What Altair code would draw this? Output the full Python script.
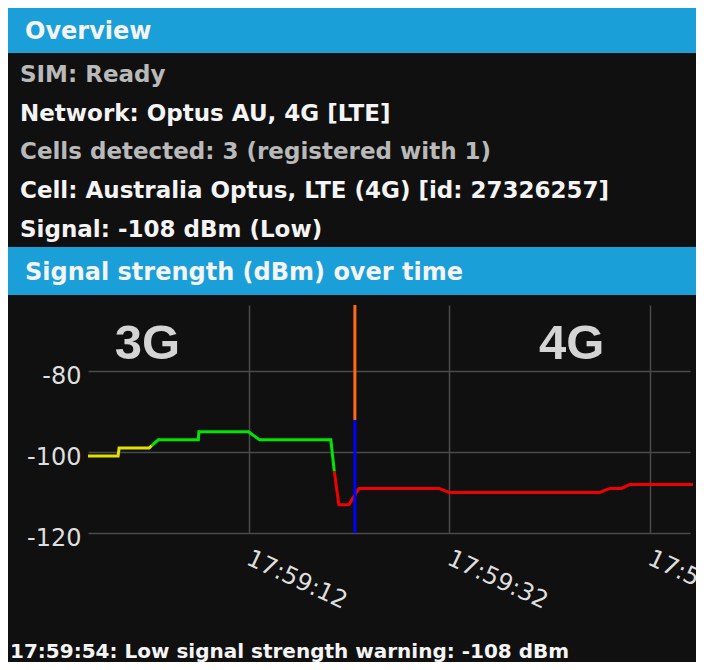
import altair as alt
import pandas as pd

# ---------------- text content ----------------
overview_title = "Overview"
status_lines = [
    "SIM: Ready",
    "Network: Optus AU, 4G [LTE]",
    "Cells detected: 3 (registered with 1)",
    "Cell: Australia Optus, LTE (4G) [id: 27326257]",
    "Signal: -108 dBm (Low)",
]
status_dim = [True, False, True, False, False]
graph_title = "Signal strength (dBm) over time"
warning_text = "17:59:54: Low signal strength warning: -108 dBm"

# ---------------- data (seconds after 17:59:00, dBm) ----------------
yellow_t = [-4, -1.0, -0.9, 2.1, 2.35]
yellow_v = [-101, -101, -99, -99, -98.4]
green_t = [2.35, 3.0, 7.0, 7.05, 12.0, 13.1, 20.2, 20.55]
green_v = [-98.4, -97, -97, -95, -95, -97, -97, -104.8]
red_t = [20.55, 21.0, 22.0, 23.0, 31.0, 32.0, 47.0, 48.0, 49.2, 50.0, 56.3]
red_v = [-104.8, -113, -113, -109, -109, -110, -110, -109, -109, -108, -108]

switch_t = 22.6
switch_split = -92.1
y_min, y_max = -120, -63.7
x_min, x_max = -4, 56

net_labels = ["3G", "4G"]
net_t = [1.93, 44.2]
net_v = [-77, -77]

y_ticks = [-80, -100, -120]
x_tick_seconds = [12, 32, 52]
x_tick_labels = ["17:59:12", "17:59:32", "17:59:52"]

# ---------------- styling ----------------
BG = "#101010"
BAR = "#1a9fd8"
WHITE = "#f4f4f4"
DIM = "#b9b9b9"
GRID = "#4a4a4a"
BODY_FONT = "DejaVu Sans"

label_expr = " : ".join(
    f"datum.value == {s} ? '{l}'" for s, l in zip(x_tick_seconds, x_tick_labels)
) + " : ''"

X = alt.X(
    "t:Q",
    scale=alt.Scale(domain=[x_min, x_max], nice=False, zero=False),
    axis=alt.Axis(
        values=x_tick_seconds, labelExpr=label_expr, title=None, grid=True,
        gridColor=GRID, gridWidth=1.5, domain=False, ticks=False,
        labelAngle=25, labelAlign="left", labelBaseline="top",
        labelPadding=13, labelOffset=4, labelFont=BODY_FONT, labelFontSize=24,
        labelColor="#dedede", labelFlush=False, labelOverlap=False,
    ),
)
Y = alt.Y(
    "v:Q",
    scale=alt.Scale(domain=[y_min, y_max], nice=False, zero=False),
    axis=alt.Axis(
        values=y_ticks, title=None, grid=True, gridColor=GRID, gridWidth=1.5,
        domain=False, ticks=False, labelPadding=7, labelOffset=5,
        labelExpr="'-' + abs(datum.value)",
        labelFont=BODY_FONT, labelFontSize=24, labelColor="#dedede",
        labelOverlap=False,
    ),
)

layers = []

# series lines
for ts, vs, col in [(yellow_t, yellow_v, "#e2e200"), (green_t, green_v, "#00e600"), (red_t, red_v, "#f00000")]:
    df = pd.DataFrame({"t": ts, "v": vs, "i": list(range(len(ts)))})
    layers.append(
        alt.Chart(df).mark_line(color=col, strokeWidth=3, clip=False).encode(
            x=X, y=Y, order="i:O"
        )
    )

# network switch marker
rule_top = pd.DataFrame({"t": [switch_t], "v": [switch_split], "v2": [y_max]})
rule_bot = pd.DataFrame({"t": [switch_t], "v": [y_min], "v2": [switch_split]})
layers.append(alt.Chart(rule_top).mark_rule(color="#ff6a14", strokeWidth=3).encode(x=X, y=Y, y2="v2:Q"))
layers.append(alt.Chart(rule_bot).mark_rule(color="#0000ff", strokeWidth=3).encode(x=X, y=Y, y2="v2:Q"))

# 3G / 4G annotations
net_df = pd.DataFrame({"t": net_t, "v": net_v, "label": net_labels})
layers.append(
    alt.Chart(net_df).mark_text(
        font="Liberation Sans", fontWeight="bold", fontSize=49, color="#d4d4d4",
        align="center", baseline="alphabetic",
    ).encode(x=X, y=Y, text="label:N")
)

# ---------------- header (pixel layout relative to plot origin) ----------------
def bar(y0, y1):
    return alt.Chart(alt.Data(values=[{"k": 1}])).mark_rect(color=BAR).encode(
        x=alt.value(-80), x2=alt.value(616), y=alt.value(y0), y2=alt.value(y1)
    )

def text(s, x, y, color, size):
    return alt.Chart(alt.Data(values=[{"label": s}])).mark_text(
        font=BODY_FONT, fontWeight="bold", fontSize=size, color=color,
        align="left", baseline="alphabetic",
    ).encode(x=alt.value(x), y=alt.value(y), text="label:N")

header = [bar(-297, -252), bar(-58, -10)]
header.append(text(overview_title, -63, -266, WHITE, 24))
for i, (s, dim) in enumerate(zip(status_lines, status_dim)):
    header.append(text(s, -68, -223 + i * 38.7, DIM if dim else WHITE, 23))
header.append(text(graph_title, -63, -25, WHITE, 24))
header.append(text(warning_text, -78, 353, WHITE, 20))

chart = alt.layer(*header, *layers).properties(
    width=602,
    height=228,
    padding={"left": 80, "top": 297, "right": 6, "bottom": 129},
    autosize=alt.AutoSizeParams(type="none"),
    background=BG,
).configure_view(stroke=None)

chart.save("out.html", embed_options={"renderer": "svg", "actions": False})
